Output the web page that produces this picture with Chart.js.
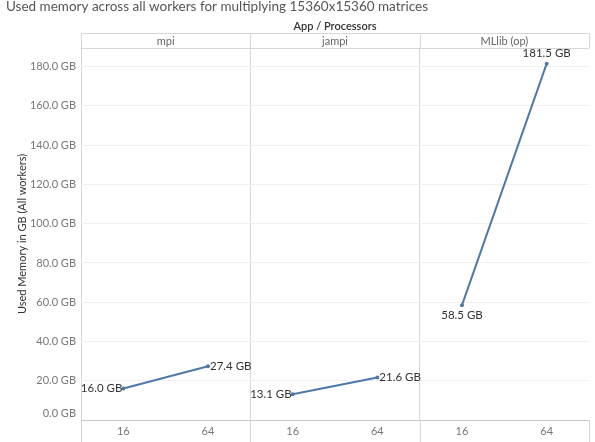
<!DOCTYPE html>
<html>
<head>
<meta charset="utf-8">
<script src="https://cdn.jsdelivr.net/npm/chart.js@4.4.1/dist/chart.umd.min.js"></script>
<style>
  html, body { margin: 0; padding: 0; background: #fff; }
  #wrap { width: 595px; height: 442px; position: relative; }
</style>
</head>
<body>
<div id="wrap"><canvas id="memChart"></canvas></div>
<script>
  const processors = ["16", "64", "16", "64", "16", "64"];
  const apps = ["mpi", "jampi", "MLlib (op)"];
  const mpiMem = [16.0, 27.4, null, null, null, null];
  const jampiMem = [null, null, 13.1, 21.6, null, null];
  const mllibMem = [null, null, null, null, 58.5, 181.5];
  const yTicks = [0, 20, 40, 60, 80, 100, 120, 140, 160, 180];

  // where each value label sits relative to its point
  const labelSide = ["left", "right", "left", "right", "below", "above"];

  const FONT = "Lato, 'Open Sans', sans-serif";
  const BLUE = "#4e79a7";
  const SEP = "#d6d6d6";

  function fmt(v) {
    return v.toFixed(1) + " GB";
  }

  const decor = {
    id: "decor",
    afterDraw(chart) {
      const { ctx, chartArea: a, scales } = chart;
      const x = scales.x, y = scales.y;
      const H = chart.height;
      const bounds = [a.left];
      for (let i = 1; i + 1 < processors.length; i += 2) {
        bounds.push((x.getPixelForValue(i) + x.getPixelForValue(i + 1)) / 2);
      }
      bounds.push(a.right);

      ctx.save();
      // title
      ctx.fillStyle = "#555";
      ctx.font = "13.5px " + FONT;
      ctx.textAlign = "left";
      ctx.textBaseline = "middle";
      ctx.fillText("Used memory across all workers for multiplying 15360x15360 matrices", 6, 7);

      // header
      ctx.fillStyle = "#333";
      ctx.font = "600 11px " + FONT;
      ctx.textAlign = "center";
      ctx.fillText("App / Processors", (a.left + a.right) / 2, 26);

      ctx.strokeStyle = SEP;
      ctx.lineWidth = 1;
      ctx.beginPath();
      ctx.moveTo(a.left, 33.5);
      ctx.lineTo(a.right, 33.5);
      bounds.forEach((b) => {
        const bx = Math.round(b) + 0.5;
        ctx.moveTo(bx, 33);
        ctx.lineTo(bx, a.top);
        ctx.moveTo(bx, a.bottom);
        ctx.lineTo(bx, H);
      });
      ctx.stroke();

      ctx.fillStyle = "#666";
      ctx.font = "11px " + FONT;
      apps.forEach((name, i) => {
        ctx.fillText(name, (bounds[i] + bounds[i + 1]) / 2, 41);
      });

      // y axis labels
      ctx.textAlign = "right";
      ctx.fillStyle = "#777";
      yTicks.forEach((t) => {
        const py = Math.min(y.getPixelForValue(t), a.bottom - 7);
        ctx.fillText(fmt(t), a.left - 5, py);
      });

      // y axis title
      ctx.save();
      ctx.translate(22, (a.top + a.bottom) / 2);
      ctx.rotate(-Math.PI / 2);
      ctx.textAlign = "center";
      ctx.fillStyle = "#333";
      ctx.fillText("Used Memory in GB (All workers)", 0, 0);
      ctx.restore();

      // value labels
      ctx.fillStyle = "#333";
      ctx.font = "11.5px " + FONT;
      chart.data.datasets.forEach((ds, di) => {
        const meta = chart.getDatasetMeta(di);
        ds.data.forEach((v, i) => {
          if (v == null) return;
          const p = meta.data[i];
          const side = labelSide[i];
          if (side === "left") {
            ctx.textAlign = "right";
            ctx.fillText(fmt(v), p.x - 1, p.y);
          } else if (side === "right") {
            ctx.textAlign = "left";
            ctx.fillText(fmt(v), p.x + 2, p.y);
          } else if (side === "below") {
            ctx.textAlign = "center";
            ctx.fillText(fmt(v), p.x, p.y + 10);
          } else {
            ctx.textAlign = "center";
            ctx.fillText(fmt(v), p.x, p.y - 10);
          }
        });
      });
      ctx.restore();
    },
  };

  function series(label, data) {
    return {
      label,
      data,
      borderColor: BLUE,
      backgroundColor: BLUE,
      borderWidth: 2,
      pointRadius: 2,
      pointBorderWidth: 0,
      pointHoverRadius: 2,
      spanGaps: false,
    };
  }

  new Chart(document.getElementById("memChart"), {
    type: "line",
    data: {
      labels: processors,
      datasets: [
        series("mpi", mpiMem),
        series("jampi", jampiMem),
        series("MLlib (op)", mllibMem),
      ],
    },
    options: {
      responsive: true,
      maintainAspectRatio: false,
      animation: false,
      devicePixelRatio: 1,
      layout: { padding: { top: 48, right: 6, left: 0, bottom: 0 } },
      plugins: { legend: { display: false }, tooltip: { enabled: false } },
      scales: {
        x: {
          type: "category",
          offset: true,
          grid: {
            offset: true,
            drawTicks: false,
            color: (c) => (c.index % 2 === 0 ? SEP : "rgba(0,0,0,0)"),
          },
          border: { color: "#c8c8c8" },
          ticks: {
            color: "#777",
            font: { family: FONT, size: 11 },
            padding: 5,
            maxRotation: 0,
          },
          afterFit: (s) => { s.height = 22; },
        },
        y: {
          min: 0,
          max: 189.5,
          grid: {
            color: (c) => (c.tick && c.tick.value % 20 === 0 ? "#efefef" : SEP),
            drawTicks: false,
          },
          border: { display: false },
          ticks: { display: false, stepSize: 20 },
          afterBuildTicks: (s) => {
            s.ticks = s.ticks.filter((t) => t.value % 20 === 0 || t.value === s.max);
          },
          afterFit: (s) => { s.width = 81; },
        },
      },
    },
    plugins: [decor],
  });
</script>
</body>
</html>
